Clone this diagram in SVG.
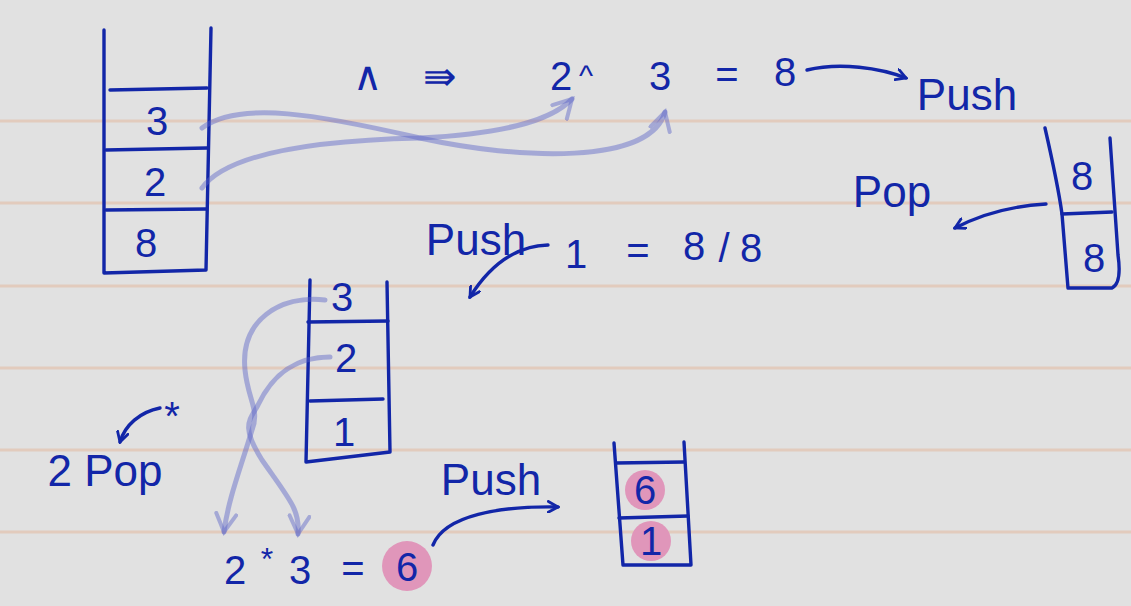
<svg xmlns="http://www.w3.org/2000/svg" width="1131" height="606" viewBox="0 0 1131 606">
<style>
.ink{fill:none;stroke:#1226a8;stroke-width:3.4;stroke-linecap:round;stroke-linejoin:round}
.hl{fill:none;stroke:#5a64c8;stroke-opacity:0.45;stroke-width:5;stroke-linecap:round;stroke-linejoin:round}
.rule{stroke:#e2cbbd;stroke-width:3}
.t{font-family:"Liberation Sans",Arial,sans-serif;fill:#1226a8;text-anchor:middle}
.n{font-size:40px}
.w{font-size:44px}
.pink{fill:#e096ba}
</style>
<defs>
<marker id="ah" viewBox="0 0 12 12" refX="10" refY="6" markerWidth="13" markerHeight="13" markerUnits="userSpaceOnUse" orient="auto">
<path d="M1,1 L10,6 L1,11" fill="none" stroke="#1226a8" stroke-width="2.6" stroke-linecap="round"/>
</marker>
<marker id="ahl" viewBox="0 0 12 12" refX="10" refY="6" markerWidth="24" markerHeight="24" markerUnits="userSpaceOnUse" orient="auto">
<path d="M1,1 L10,6 L1,11" fill="none" stroke="#5a64c8" stroke-opacity="0.45" stroke-width="2" stroke-linecap="round"/>
</marker>
</defs>
<rect width="1131" height="606" fill="#e1e1e1"/>
<g id="rules">
<line class="rule" x1="0" y1="121" x2="1131" y2="121"/>
<line class="rule" x1="0" y1="203" x2="1131" y2="203"/>
<line class="rule" x1="0" y1="286" x2="1131" y2="286"/>
<line class="rule" x1="0" y1="368" x2="1131" y2="368"/>
<line class="rule" x1="0" y1="450" x2="1131" y2="450"/>
<line class="rule" x1="0" y1="532" x2="1131" y2="532"/>
</g>
<g id="stack1">
<path class="ink" d="M104,30 L104,273 L206,270 L211,28"/>
<path class="ink" d="M110,90 L207,88 M106,150 L207,148 M106,210 L206,209"/>
<text class="t n" x="157" y="135">3</text>
<text class="t n" x="155" y="196">2</text>
<text class="t n" x="146" y="257">8</text>
</g>
<g id="top-eq">
<text class="t n" x="367" y="90">∧</text>
<text class="t n" x="440" y="90">⇛</text>
<text class="t n" x="561" y="90">2</text>
<text class="t" style="font-size:30px" x="586" y="86">^</text>
<text class="t n" x="660" y="90">3</text>
<text class="t n" x="727" y="88">=</text>
<text class="t n" x="785" y="86">8</text>
<text class="t w" x="967" y="110">Push</text>
</g>
<g id="stack2-right">
<path class="ink" d="M1045,128 Q1058,185 1062,214 L1068,288 L1112,288 Q1122,283 1118,255 L1110,138"/>
<path class="ink" d="M1062,214 L1112,212"/>
<text class="t n" x="1082" y="190">8</text>
<text class="t n" x="1094" y="272">8</text>
<text class="t w" x="892" y="207">Pop</text>
</g>
<g id="mid-eq">
<text class="t w" x="476" y="255">Push</text>
<text class="t n" x="576" y="268">1</text>
<text class="t n" x="638" y="264">=</text>
<text class="t n" x="694" y="260">8</text>
<text class="t n" x="724" y="262">/</text>
<text class="t n" x="751" y="262">8</text>
</g>
<g id="stack3">
<path class="ink" d="M310,280 L306,462 L390,452 L387,282"/>
<path class="ink" d="M308,322 L388,321 M310,401 L383,399"/>
<text class="t n" x="342" y="311">3</text>
<text class="t n" x="346" y="372">2</text>
<text class="t n" x="344" y="446">1</text>
</g>
<g id="pop2">
<text class="t n" x="172" y="430">*</text>
<text class="t w" x="105" y="486">2 Pop</text>
</g>
<g id="bottom-eq">
<text class="t n" x="235" y="584">2</text>
<text class="t" style="font-size:32px" x="267" y="570">*</text>
<text class="t n" x="300" y="584">3</text>
<text class="t n" x="353" y="582">=</text>
<circle class="pink" cx="407" cy="566" r="25"/>
<text class="t n" x="407" y="581">6</text>
<text class="t w" x="491" y="495">Push</text>
</g>
<g id="stack4">
<circle class="pink" cx="645" cy="490" r="20"/>
<circle class="pink" cx="651" cy="541" r="20"/>
<path class="ink" d="M614,443 L623,565 L691,565 L684,442"/>
<path class="ink" d="M616,463 L684,462 M619,518 L688,516"/>
<text class="t n" x="645" y="504">6</text>
<text class="t n" x="651" y="555">1</text>
</g>
<g id="connectors">
<path class="hl" d="M202,128 C240,100 320,115 420,138 C520,160 650,165 665,112" marker-end="url(#ahl)"/>
<path class="hl" d="M202,188 C230,150 330,140 420,138 C500,134 550,122 572,99" marker-end="url(#ahl)"/>
<path class="hl" d="M325,300 C280,295 240,320 245,370 C248,400 260,410 252,430 C240,470 228,500 224,532" marker-end="url(#ahl)"/>
<path class="hl" d="M330,357 C290,357 270,380 258,405 C250,420 240,425 262,460 C290,500 300,510 298,534" marker-end="url(#ahl)"/>
<path class="ink" d="M807,70 C840,62 880,68 906,78" marker-end="url(#ah)"/>
<path class="ink" d="M1046,204 C1010,206 980,215 955,228" marker-end="url(#ah)"/>
<path class="ink" d="M548,245 C515,246 490,265 470,297" marker-end="url(#ah)"/>
<path class="ink" d="M160,408 C140,412 125,425 120,442" marker-end="url(#ah)"/>
<path class="ink" d="M433,545 C445,515 500,506 558,507" marker-end="url(#ah)"/>
</g>
</svg>
